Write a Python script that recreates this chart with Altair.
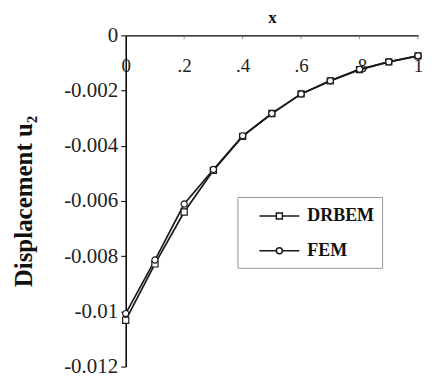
import altair as alt
import pandas as pd

x_vals = [0.0, 0.1, 0.2, 0.3, 0.4, 0.5, 0.6, 0.7, 0.8, 0.9, 1.0]
drbem = [-0.01032, -0.00828, -0.00640, -0.00489, -0.00366, -0.00283, -0.00212, -0.00165, -0.00124, -0.00096, -0.00074]
fem = [-0.01008, -0.00814, -0.00611, -0.00486, -0.00364, -0.00283, -0.00212, -0.00164, -0.00123, -0.00096, -0.00074]
series = ["DRBEM", "FEM"]
x_ticks = [0, 0.2, 0.4, 0.6, 0.8, 1.0]
y_ticks = [0, -0.002, -0.004, -0.006, -0.008, -0.01, -0.012]

rows = []
for s, vals in zip(series, [drbem, fem]):
    for xv, yv in zip(x_vals, vals):
        rows.append({"x": xv, "u2": yv, "method": s})
df = pd.DataFrame(rows)
tick_df = pd.DataFrame({"x": x_ticks[1:], "u2": [0.0] * (len(x_ticks) - 1)})

FONT = "Liberation Serif"
xscale = alt.Scale(domain=[0, 1], nice=False, zero=False)
yscale = alt.Scale(domain=[-0.012, 0], nice=False)

yaxis = alt.Axis(
    values=y_ticks,
    labelExpr="datum.value == 0 ? '0' : '-' + format(abs(datum.value), '~g')",
    grid=False, tickSize=5, tickColor="black", domainColor="black", domainWidth=1.5,
    labelFont=FONT, labelFontSize=21, labelColor="#222", labelPadding=3,
    title="Displacement u₂", titleFont=FONT, titleFontSize=25, titleFontWeight="bold",
    titleColor="#111", titleX=-102, titleBaseline="middle", titleAngle=270,
)

xaxis_main = alt.Axis(
    orient="top", values=x_ticks,
    labelExpr="replace(format(datum.value, '.1~f'), '0.', '.')",
    grid=False, ticks=False, tickSize=0, domainColor="black", domainWidth=1.5,
    labelFont=FONT, labelFontSize=19, labelColor="#222", labelPadding=-30,
    labelBaseline="middle", labelFlush=False,
    title="x", titleFont=FONT, titleFontSize=17, titleFontWeight="bold",
    titleColor="#111", titleY=-18, titleBaseline="middle",
)

base = alt.Chart(df)

lines = base.mark_line(color="#1a1a1a", strokeWidth=1.7).encode(
    x=alt.X("x:Q", scale=xscale, axis=xaxis_main),
    y=alt.Y("u2:Q", scale=yscale, axis=yaxis),
    detail="method:N",
)

points = base.mark_point(filled=False, color="#1a1a1a", fill="white", fillOpacity=1,
                         strokeWidth=1.2, size=38, opacity=1).encode(
    x=alt.X("x:Q", scale=xscale, axis=xaxis_main),
    y=alt.Y("u2:Q", scale=yscale, axis=yaxis),
    shape=alt.Shape("method:N", scale=alt.Scale(domain=series, range=["square", "circle"]), legend=None),
)

ticks = alt.Chart(tick_df).mark_tick(orient="vertical", size=4, thickness=1, color="#666", yOffset=2).encode(
    x=alt.X("x:Q", scale=xscale, axis=xaxis_main),
    y=alt.Y("u2:Q", scale=yscale, axis=yaxis),
)

sq_path = "M0.3,0H2.0M2.6,0H4.3M2.0,-0.3H2.6V0.3H2.0Z"
ci_path = "M0.3,0H2.0A0.3,0.3 0 1,1 2.6,0A0.3,0.3 0 1,1 2.0,0ZM2.6,0H4.3"

legend_layer = base.mark_point(filled=False, color="#1a1a1a").encode(
    shape=alt.Shape("method:N", scale=alt.Scale(domain=series, range=[sq_path, ci_path]),
                    legend=alt.Legend(
                        title=None, orient="none", legendX=112, legendY=162,
                        symbolSize=400, symbolStrokeColor="#1a1a1a", symbolFillColor="white",
                        symbolStrokeWidth=1.5, labelFont=FONT, labelFontSize=18,
                        labelFontWeight="bold", labelColor="#111", labelOffset=40,
                        padding=8, strokeColor="#999", fillColor="white", rowPadding=15,
                        symbolOpacity=1,
                    )),
).transform_filter("false")

chart = alt.layer(ticks, lines, points, legend_layer).resolve_scale(
    shape="independent"
).properties(
    width=293, height=332,
    padding={"left": 4, "top": 0, "right": 0, "bottom": 0},
).configure_view(stroke=None)

chart.save("out.html", embed_options={"renderer": "svg", "actions": False})
